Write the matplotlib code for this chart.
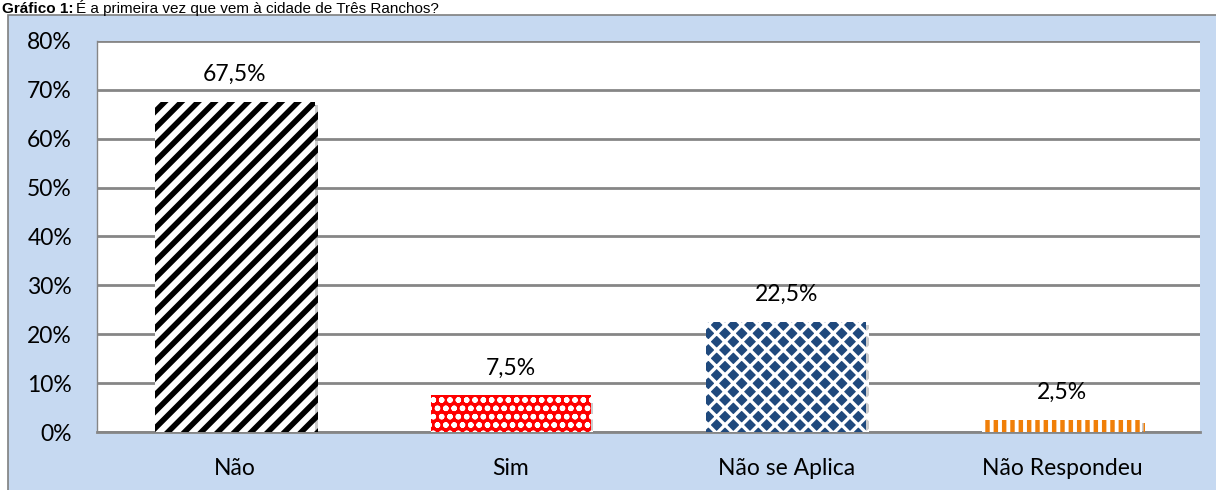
import matplotlib.pyplot as plt
import matplotlib.patheffects as pe
from matplotlib.patches import Rectangle
from matplotlib.ticker import PercentFormatter, MultipleLocator

categories = ['Não', 'Sim', 'Não se Aplica', 'Não Respondeu']
values = [67.5, 7.5, 22.5, 2.5]
labels = ['67,5%', '7,5%', '22,5%', '2,5%']

# (facecolor, hatch, hatch colour, hatch linewidth) per bar
styles = [
    ('white', '//', 'black', 4.0),
    ('#ff0000', 'oo', 'white', 1.6),
    ('#1f497d', 'xx', 'white', 2.4),
    ('white', '||', '#f07f09', 3.2),
]

plt.rcParams['font.family'] = ['Lato', 'DejaVu Sans']

fig = plt.figure(figsize=(12.16, 4.9), dpi=100, facecolor='white')

# light blue chart frame
fig.patches.append(Rectangle((8 / 1216, -0.01), 1, 1 - 15 / 490 + 0.01,
                             transform=fig.transFigure, facecolor='#c6d9f1',
                             edgecolor='#7f7f7f', linewidth=1.2, zorder=-5))

# caption above the frame
fig.text(2 / 1216, 1 - 13 / 490, 'Gráfico 1:', fontsize=11, fontweight='bold',
         family='Liberation Sans', va='baseline', ha='left')
fig.text(76 / 1216, 1 - 13 / 490, 'É a primeira vez que vem à cidade de Três Ranchos?',
         fontsize=11, family='Liberation Sans', va='baseline', ha='left')

ax = fig.add_axes([97 / 1216, 1 - 432 / 490, (1200 - 97) / 1216, (432 - 41) / 490])
ax.set_facecolor('white')

x = range(len(categories))
for i, (v, st) in enumerate(zip(values, styles)):
    face, hatch, hcol, hlw = st
    plt.rcParams['hatch.linewidth'] = hlw
    plt.rcParams['hatch.color'] = hcol
    b = ax.bar(i, v, width=0.58, color=face, hatch=hatch, edgecolor=hcol,
               linewidth=0, zorder=3)
    for r in b:
        if hasattr(r, 'set_hatch_linewidth'):
            r.set_hatch_linewidth(hlw)
        r.set_path_effects([pe.SimplePatchShadow(offset=(2, -2), shadow_rgbFace='#9a9a9a',
                                                 alpha=0.5), pe.Normal()])
    ax.text(i, v + 5.6, labels[i], ha='center', va='center', fontsize=16.5, color='black')

ax.set_xlim(-0.5, len(categories) - 0.5)
ax.set_ylim(0, 80)
ax.yaxis.set_major_locator(MultipleLocator(10))
ax.yaxis.set_major_formatter(PercentFormatter(decimals=0))
ax.set_xticks(list(x))
ax.set_xticklabels(categories)
ax.tick_params(axis='both', length=0, labelsize=16.5, colors='black')
ax.tick_params(axis='x', pad=19)
ax.tick_params(axis='y', pad=18)
ax.grid(axis='y', color='#868686', linewidth=2, zorder=0)
ax.set_axisbelow(True)

for s in ['top', 'right']:
    ax.spines[s].set_visible(False)
ax.spines['left'].set_color('#868686')
ax.spines['left'].set_linewidth(1)
ax.spines['bottom'].set_color('#868686')
ax.spines['bottom'].set_linewidth(2)

fig.savefig('out.png', dpi=100, facecolor='white')
